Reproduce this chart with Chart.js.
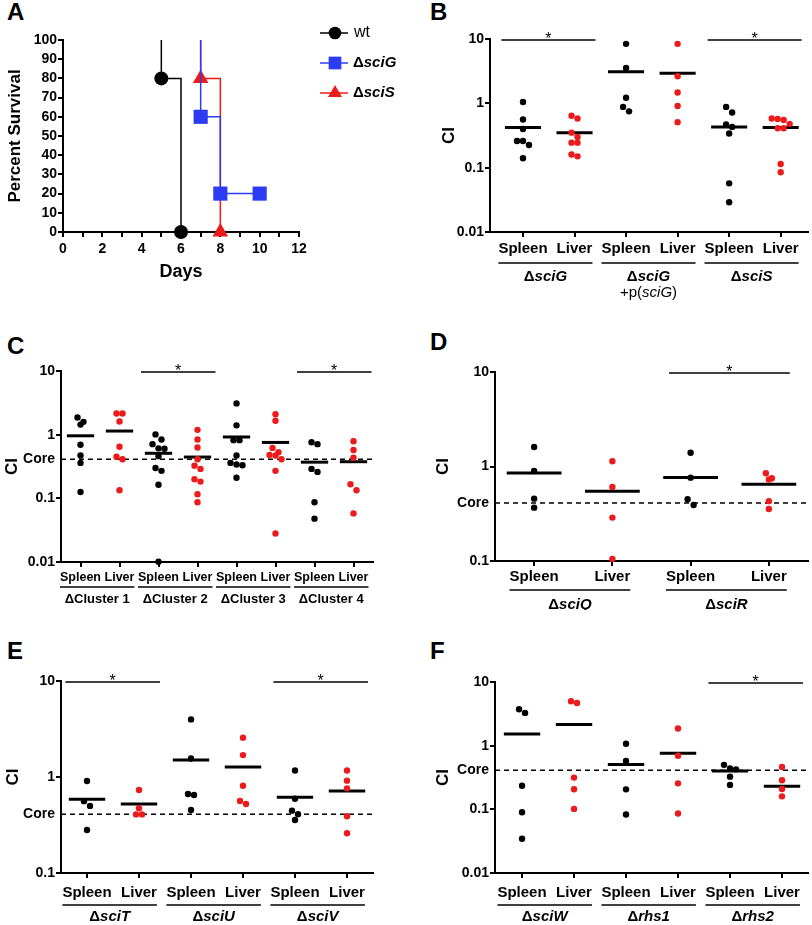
<!DOCTYPE html>
<html>
<head>
<meta charset="utf-8">
<script src="https://cdn.jsdelivr.net/npm/chart.js@4.4.1/dist/chart.umd.min.js"></script>
<style>
  html, body { margin: 0; padding: 0; background: #fff; }
  #fig { position: relative; width: 812px; height: 925px; overflow: hidden; background: #fff; }
  #fig canvas { position: absolute; }
  .letter { position: absolute; font: bold 24px 'Liberation Sans', Arial, sans-serif; line-height: 24px; color: #000; }
</style>
</head>
<body>
<div id="fig">
  <div class="letter" style="left:7px;top:0px">A</div>
  <div class="letter" style="left:430px;top:0px">B</div>
  <div class="letter" style="left:7px;top:334px">C</div>
  <div class="letter" style="left:430px;top:330px">D</div>
  <div class="letter" style="left:7px;top:639px">E</div>
  <div class="letter" style="left:430px;top:639px">F</div>
  <canvas id="cA" width="410" height="290" style="left:0;top:0"></canvas>
  <canvas id="cB" width="402" height="305" style="left:410px;top:0"></canvas>
  <canvas id="cC" width="410" height="310" style="left:0;top:300px"></canvas>
  <canvas id="cD" width="402" height="310" style="left:410px;top:300px"></canvas>
  <canvas id="cE" width="410" height="315" style="left:0;top:610px"></canvas>
  <canvas id="cF" width="402" height="315" style="left:410px;top:610px"></canvas>
</div>
<script>
// ---- data ----

// A: survival (percent) after each event day
const WT_DAYS = [5, 6];
const WT_SURVIVAL = [80, 0];
const SCIG_DAYS = [7, 8, 10];
const SCIG_SURVIVAL = [60, 20, 20];
const SCIS_DAYS = [7, 8];
const SCIS_SURVIVAL = [80, 0];

// "Core" reference CI level (dashed line)
const CORE = 0.41;

// B
const B_CATEGORIES = ['Spleen', 'Liver', 'Spleen', 'Liver', 'Spleen', 'Liver'];
const B_GROUPS = ['Δ*sciG*', 'Δ*sciG*\n+p(*sciG*)', 'Δ*sciS*'];
const B_VALUES = [
    [1.05, 0.56, 0.40, 0.26, 0.26, 0.225, 0.14],
    [0.64, 0.58, 0.35, 0.30, 0.245, 0.245, 0.16, 0.15],
    [8.4, 3.54, 1.22, 0.88, 0.75],
    [8.4, 2.63, 1.47, 0.91, 0.51],
    [0.88, 0.72, 0.47, 0.43, 0.34, 0.057, 0.029],
    [0.58, 0.57, 0.55, 0.48, 0.41, 0.41, 0.114, 0.085]
];
const B_MEANS = [0.42, 0.35, 3.1, 2.93, 0.43, 0.42];
const B_SIGNIFICANT = [0, 2];
const B_TICKS = [0.01, 0.1, 1, 10];

// C
const C_CATEGORIES = ['Spleen', 'Liver', 'Spleen', 'Liver', 'Spleen', 'Liver', 'Spleen', 'Liver'];
const C_GROUPS = ['ΔCluster 1', 'ΔCluster 2', 'ΔCluster 3', 'ΔCluster 4'];
const C_VALUES = [
    [1.86, 1.59, 1.44, 0.695, 0.47, 0.36, 0.126],
    [2.15, 2.15, 1.61, 0.645, 0.45, 0.41, 0.134],
    [1.01, 0.84, 0.71, 0.61, 0.60, 0.46, 0.30, 0.27, 0.163, 0.0101],
    [1.19, 0.84, 0.63, 0.41, 0.326, 0.29, 0.2, 0.183, 0.116, 0.087],
    [3.1, 1.40, 0.82, 0.82, 0.47, 0.36, 0.34, 0.33, 0.21],
    [2.1, 1.65, 0.62, 0.53, 0.48, 0.47, 0.41, 0.27, 0.028],
    [0.76, 0.71, 0.29, 0.26, 0.087, 0.048],
    [0.79, 0.575, 0.435, 0.166, 0.134, 0.058]
];
const C_MEANS = [0.96, 1.14, 0.51, 0.445, 0.92, 0.755, 0.37, 0.376];
const C_SIGNIFICANT = [1, 3];
const C_TICKS = [0.01, 0.1, CORE, 1, 10];

// D
const D_CATEGORIES = ['Spleen', 'Liver', 'Spleen', 'Liver'];
const D_GROUPS = ['Δ*sciQ*', 'Δ*sciR*'];
const D_VALUES = [
    [1.61, 0.895, 0.457, 0.367],
    [1.135, 0.607, 0.288, 0.105],
    [1.40, 0.762, 0.45, 0.392],
    [0.847, 0.75, 0.73, 0.43, 0.355]
];
const D_MEANS = [0.853, 0.546, 0.767, 0.647];
const D_SIGNIFICANT = [1];
const D_TICKS = [0.1, CORE, 1, 10];

// E
const E_CATEGORIES = ['Spleen', 'Liver', 'Spleen', 'Liver', 'Spleen', 'Liver'];
const E_GROUPS = ['Δ*sciT*', 'Δ*sciU*', 'Δ*sciV*'];
const E_VALUES = [
    [0.908, 0.56, 0.50, 0.28],
    [0.733, 0.472, 0.408, 0.408],
    [3.98, 1.56, 0.665, 0.65, 0.453],
    [2.57, 1.69, 0.81, 0.562, 0.524],
    [1.17, 0.594, 0.446, 0.41, 0.356],
    [1.17, 0.916, 0.762, 0.39, 0.259]
];
const E_MEANS = [0.585, 0.524, 1.50, 1.27, 0.614, 0.714];
const E_SIGNIFICANT = [0, 2];
const E_TICKS = [0.1, CORE, 1, 10];

// F
const F_CATEGORIES = ['Spleen', 'Liver', 'Spleen', 'Liver', 'Spleen', 'Liver'];
const F_GROUPS = ['Δ*sciW*', 'Δ*rhs1*', 'Δ*rhs2*'];
const F_VALUES = [
    [3.73, 3.27, 0.235, 0.090, 0.0345],
    [4.98, 4.69, 0.315, 0.207, 0.1016],
    [1.07, 0.573, 0.206, 0.083],
    [1.86, 0.695, 0.256, 0.086],
    [0.50, 0.44, 0.425, 0.326, 0.242],
    [0.462, 0.286, 0.209, 0.16]
];
const F_MEANS = [1.53, 2.15, 0.508, 0.757, 0.40, 0.23];
const F_SIGNIFICANT = [2];
const F_TICKS = [0.01, 0.1, CORE, 1, 10];

// ---- styling ----
const FONT = "'Liberation Sans', Arial, sans-serif";
const BLACK = '#000000';
const RED = '#ec1b1b';
const BLUE = '#2b3cf2';

Chart.defaults.font.family = FONT;
Chart.defaults.color = BLACK;

// text like 'Δ*sciG*' -> stars mark the italic part
function drawRich(ctx, text, cx, cy, size, weight) {
    const parts = text.split('*');
    const fonts = parts.map((p, k) => (k % 2 ? 'italic ' : '') + weight + ' ' + size + 'px ' + FONT);
    const widths = parts.map((p, k) => { ctx.font = fonts[k]; return ctx.measureText(p).width; });
    let x = cx - widths.reduce((a, b) => a + b, 0) / 2;
    ctx.textAlign = 'left';
    ctx.textBaseline = 'middle';
    parts.forEach((p, k) => {
        ctx.font = fonts[k];
        ctx.fillText(p, x, cy);
        x += widths[k];
    });
}

// spread points sharing (nearly) the same height sideways, Prism style
const beeswarm = {
    id: 'beeswarm',
    afterDatasetsUpdate(chart) {
        const gap = 6;
        chart.data.datasets.forEach((ds, i) => {
            if (!ds.swarm) return;
            const pts = chart.getDatasetMeta(i).data.slice().sort((a, b) => a.y - b.y);
            let row = [];
            const flush = () => {
                row.forEach((p, k) => { p.x += (k - (row.length - 1) / 2) * gap; });
                row = [];
            };
            pts.forEach(p => {
                if (row.length && p.y - row[0].y >= gap) flush();
                row.push(p);
            });
            flush();
        });
    }
};

// group underlines + labels under the x axis, significance bars on top
function groupAxis(cats, groups, sig, lay) {
    return {
        id: 'groupAxis',
        afterDraw(chart) {
            const { ctx, chartArea } = chart;
            const xs = chart.scales.x;
            const per = cats.length / groups.length;
            ctx.save();
            ctx.fillStyle = BLACK;
            ctx.strokeStyle = BLACK;
            groups.forEach((g, gi) => {
                const first = gi * per + 1;
                const last = first + per - 1;
                ctx.font = 'bold ' + lay.catSize + 'px ' + FONT;
                const x0 = xs.getPixelForValue(first) - ctx.measureText(cats[first - 1]).width / 2;
                const x1 = xs.getPixelForValue(last) + ctx.measureText(cats[last - 1]).width / 2;
                const yl = chartArea.bottom + lay.lineGap;
                ctx.lineWidth = 1.5;
                ctx.beginPath();
                ctx.moveTo(x0, yl);
                ctx.lineTo(x1, yl);
                ctx.stroke();
                g.split('\n').forEach((ln, li) => {
                    drawRich(ctx, ln, (x0 + x1) / 2, chartArea.bottom + lay.labelGap + li * 16, lay.groupSize, li ? 'normal' : 'bold');
                });
                if (sig.includes(gi)) {
                    const ys = chartArea.top + 1;
                    ctx.lineWidth = 1.5;
                    ctx.beginPath();
                    ctx.moveTo(x0 + 3, ys);
                    ctx.lineTo(x1 + 3, ys);
                    ctx.stroke();
                    ctx.font = '16px ' + FONT;
                    ctx.textAlign = 'center';
                    ctx.textBaseline = 'alphabetic';
                    ctx.fillText('*', (x0 + x1) / 2 + 3, ys + 4);
                }
            });
            ctx.restore();
        }
    };
}

function dotPanel(canvasId, cats, groups, values, means, sig, yTicks, lay) {
    const datasets = [];
    values.forEach((vals, i) => {
        datasets.push({
            swarm: true,
            data: vals.map(v => ({ x: i + 1, y: v })),
            backgroundColor: i % 2 ? RED : BLACK,
            borderWidth: 0,
            pointRadius: 3.2,
            clip: false
        });
    });
    means.forEach((m, i) => {
        datasets.push({
            showLine: true,
            data: [{ x: i + 1 - 0.35, y: m }, { x: i + 1 + 0.35, y: m }],
            borderColor: BLACK,
            borderWidth: 3,
            pointRadius: 0
        });
    });
    if (lay.core) {
        datasets.push({
            showLine: true,
            data: [{ x: lay.xMin, y: CORE }, { x: lay.xMax, y: CORE }],
            borderColor: BLACK,
            borderWidth: 1.5,
            borderDash: [5, 4],
            pointRadius: 0
        });
    }

    return new Chart(document.getElementById(canvasId), {
        type: 'scatter',
        data: { datasets: datasets },
        options: {
            responsive: false,
            animation: false,
            events: [],
            layout: { padding: { left: 0, top: lay.area.top, right: lay.W - lay.area.right, bottom: 0 } },
            plugins: { legend: { display: false }, tooltip: { enabled: false } },
            scales: {
                x: {
                    type: 'linear',
                    min: lay.xMin,
                    max: lay.xMax,
                    afterBuildTicks: s => { s.ticks = cats.map((c, i) => ({ value: i + 1 })); },
                    afterFit: s => { s.height = lay.H - lay.area.bottom; },
                    ticks: {
                        callback: v => cats[v - 1],
                        font: { size: lay.catSize, weight: 'bold' },
                        padding: lay.catPad,
                        autoSkip: false,
                        maxRotation: 0,
                        minRotation: 0,
                        color: BLACK
                    },
                    grid: { drawOnChartArea: false, drawTicks: true, tickLength: 5, color: BLACK, lineWidth: 2 },
                    border: { color: BLACK, width: 2 }
                },
                y: {
                    type: 'logarithmic',
                    min: yTicks[0],
                    max: yTicks[yTicks.length - 1],
                    afterBuildTicks: s => { s.ticks = yTicks.map(v => ({ value: v })); },
                    afterFit: s => { s.width = lay.area.left; },
                    ticks: {
                        callback: v => v === CORE ? 'Core' : String(v),
                        font: { size: 14, weight: 'bold' },
                        padding: 1,
                        autoSkip: false,
                        color: BLACK
                    },
                    grid: {
                        drawOnChartArea: false,
                        tickLength: 5,
                        lineWidth: 2,
                        color: c => (c.tick && c.tick.value === CORE) ? 'rgba(0,0,0,0)' : BLACK
                    },
                    border: { color: BLACK, width: 2 },
                    title: { display: true, text: 'CI', font: { size: 17, weight: 'bold' }, padding: { top: lay.ciPad }, color: BLACK }
                }
            }
        },
        plugins: [beeswarm, groupAxis(cats, groups, sig, lay)]
    });
}

// ---- A: survival curves ----
function kmPoints(days, surv) {
    return [{ x: days[0], y: 100 }].concat(days.map((d, i) => ({ x: d, y: surv[i] })));
}

const kmSeries = [
    { label: 'wt', data: kmPoints(WT_DAYS, WT_SURVIVAL), color: BLACK, style: 'circle', r: 7 },
    { label: 'Δ*sciG*', data: kmPoints(SCIG_DAYS, SCIG_SURVIVAL), color: BLUE, style: 'rect', r: 10 },
    { label: 'Δ*sciS*', data: kmPoints(SCIS_DAYS, SCIS_SURVIVAL), color: RED, style: 'triangle', r: 9 }
];

const kmLegend = {
    id: 'kmLegend',
    afterDraw(chart) {
        const ctx = chart.ctx;
        ctx.save();
        chart.data.datasets.forEach((ds, i) => {
            const y = 33 + 30 * i;
            ctx.strokeStyle = ds.borderColor;
            ctx.fillStyle = ds.borderColor;
            ctx.lineWidth = 1.5;
            ctx.beginPath();
            ctx.moveTo(320, y);
            ctx.lineTo(348, y);
            ctx.stroke();
            Chart.helpers.drawPoint(ctx, { pointStyle: ds.pointStyle, radius: ds.legendRadius, borderWidth: 0, rotation: 0 }, 335, y);
            ctx.fillStyle = BLACK;
            ctx.textAlign = 'left';
            ctx.textBaseline = 'middle';
            if (i === 0) {
                ctx.font = '16px ' + FONT;
                ctx.fillText(ds.label, 354, y);
            } else {
                let x = 353;
                ds.label.split('*').forEach((p, k) => {
                    ctx.font = (k % 2 ? 'italic ' : '') + 'bold 15px ' + FONT;
                    ctx.fillText(p, x, y);
                    x += ctx.measureText(p).width;
                });
            }
        });
        ctx.restore();
    }
};

new Chart(document.getElementById('cA'), {
    type: 'scatter',
    data: {
        datasets: kmSeries.map(s => ({
            label: s.label,
            data: s.data,
            showLine: true,
            stepped: true,
            borderColor: s.color,
            backgroundColor: s.color,
            borderWidth: 1.5,
            pointStyle: s.style,
            pointRadius: s.data.map((p, i) => i === 0 ? 0 : s.r),
            pointBorderWidth: 0,
            legendRadius: s.r * 0.9,
            clip: false
        }))
    },
    options: {
        responsive: false,
        animation: false,
        events: [],
        layout: { padding: { left: 0, top: 40, right: 111, bottom: 0 } },
        plugins: { legend: { display: false }, tooltip: { enabled: false } },
        scales: {
            x: {
                type: 'linear',
                min: 0,
                max: 12,
                afterFit: s => { s.height = 290 - 232; },
                ticks: {
                    stepSize: 1,
                    autoSkip: false,
                    maxRotation: 0,
                    callback: v => v % 2 === 0 ? v : '',
                    font: { size: 14, weight: 'bold' },
                    padding: 4,
                    color: BLACK
                },
                grid: { drawOnChartArea: false, tickLength: 5, color: BLACK, lineWidth: 2 },
                border: { color: BLACK, width: 2 },
                title: { display: true, text: 'Days', font: { size: 18, weight: 'bold' }, padding: { bottom: 7 }, color: BLACK }
            },
            y: {
                min: 0,
                max: 100,
                afterFit: s => { s.width = 63; },
                ticks: { stepSize: 10, autoSkip: false, font: { size: 14, weight: 'bold' }, padding: 1, color: BLACK },
                grid: { drawOnChartArea: false, tickLength: 5, color: BLACK, lineWidth: 2 },
                border: { color: BLACK, width: 2 },
                title: { display: true, text: 'Percent Survival', font: { size: 17, weight: 'bold' }, padding: { top: 5 }, color: BLACK }
            }
        }
    },
    plugins: [kmLegend]
});

// ---- B-F: competitive index dot plots ----
dotPanel('cB', B_CATEGORIES, B_GROUPS, B_VALUES, B_MEANS, B_SIGNIFICANT, B_TICKS,
    { W: 402, H: 305, area: { left: 80, top: 39, right: 400, bottom: 232 }, xMin: 0.36, xMax: 6.53,
      catSize: 15, catPad: 3, lineGap: 31, labelGap: 45, groupSize: 15, ciPad: 29, core: false });

dotPanel('cC', C_CATEGORIES, C_GROUPS, C_VALUES, C_MEANS, C_SIGNIFICANT, C_TICKS,
    { W: 410, H: 310, area: { left: 61, top: 71, right: 373, bottom: 262 }, xMin: 0.5, xMax: 8.5,
      catSize: 12.5, catPad: 3.5, lineGap: 25, labelGap: 37, groupSize: 13, ciPad: 2, core: true });

dotPanel('cD', D_CATEGORIES, D_GROUPS, D_VALUES, D_MEANS, D_SIGNIFICANT, D_TICKS,
    { W: 402, H: 310, area: { left: 85, top: 72, right: 398, bottom: 261 }, xMin: 0.5, xMax: 4.5,
      catSize: 15, catPad: 2, lineGap: 29, labelGap: 44, groupSize: 15, ciPad: 23, core: true });

dotPanel('cE', E_CATEGORIES, E_GROUPS, E_VALUES, E_MEANS, E_SIGNIFICANT, E_TICKS,
    { W: 410, H: 315, area: { left: 61, top: 71, right: 373, bottom: 263 }, xMin: 0.5, xMax: 6.5,
      catSize: 15, catPad: 6, lineGap: 32, labelGap: 44, groupSize: 15, ciPad: 3, core: true });

dotPanel('cF', F_CATEGORIES, F_GROUPS, F_VALUES, F_MEANS, F_SIGNIFICANT, F_TICKS,
    { W: 402, H: 315, area: { left: 85, top: 72, right: 398, bottom: 263 }, xMin: 0.48, xMax: 6.5,
      catSize: 15, catPad: 6, lineGap: 32, labelGap: 44, groupSize: 15, ciPad: 23, core: true });
</script>
</body>
</html>
